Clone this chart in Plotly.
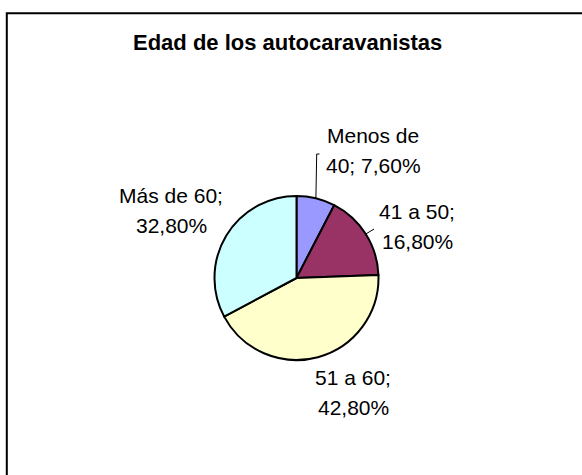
import math
import plotly.graph_objects as go

# ---- data ----
categories = ["Menos de 40", "41 a 50", "51 a 60", "Más de 60"]
values = [7.6, 16.8, 42.8, 32.8]
label_line1 = ["Menos de", "41 a 50;", "51 a 60;", "Más de 60;"]
label_line2 = ["40; 7,60%", "16,80%", "42,80%", "32,80%"]
colors = ["#9999FF", "#993366", "#FFFFCC", "#CCFFFF"]
title_text = "Edad de los autocaravanistas"

# ---- layout geometry (pixels) ----
W, H = 582, 475
CX, CY, R = 296.5, 278.0, 82.0
FONT = "Liberation Sans, Arial, sans-serif"
LBL = 21
TITLE_X = 287
# label centre (x) and baseline of first line (y), in pixels
label_pos = [(373, 143), (417, 219), (353, 385), (171, 203)]
LINE_GAP = 30


def px(x):
    return x / W


def py(y):
    return 1 - y / H


fig = go.Figure()
fig.add_trace(go.Pie(
    labels=categories,
    values=values,
    sort=False,
    direction="clockwise",
    rotation=0,
    marker=dict(colors=colors, line=dict(color="#000000", width=2)),
    textinfo="none",
    hoverinfo="label+percent",
    showlegend=False,
    domain=dict(x=[px(CX - R), px(CX + R)], y=[py(CY + R), py(CY - R)]),
))

annotations = []
# title
annotations.append(dict(
    x=px(TITLE_X), y=py(42.5), xref="paper", yref="paper", xanchor="center", yanchor="middle",
    text="<b>" + title_text + "</b>", showarrow=False,
    font=dict(family=FONT, size=22, color="#000000"),
))
# labels: put cap-middle at baseline - 0.36*font
for (lx, ly), t1, t2 in zip(label_pos, label_line1, label_line2):
    for i, t in enumerate((t1, t2)):
        yb = ly + i * LINE_GAP
        annotations.append(dict(
            x=px(lx), y=py(yb - 0.36 * LBL), xref="paper", yref="paper",
            xanchor="center", yanchor="middle", text=t, showarrow=False,
            font=dict(family=FONT, size=LBL, color="#000000"),
        ))

# leader lines, starting at slice mid-angle on pie edge
total = sum(values)
cum = 0
mids = []
for v in values:
    mids.append((cum + v / 2) / total * 2 * math.pi)
    cum += v


def edge(theta):
    return CX + R * math.sin(theta), CY - R * math.cos(theta)


shapes = []
# Menos de 40
ex, ey = edge(mids[0])
shapes.append(dict(type="path", xref="paper", yref="paper",
                   path=f"M {px(ex)},{py(ey)} L {px(316.7)},{py(154)} L {px(319.5)},{py(154)}",
                   line=dict(color="#000000", width=1)))
# 41 a 50
ex, ey = edge(mids[1])
shapes.append(dict(type="line", xref="paper", yref="paper",
                   x0=px(ex), y0=py(ey), x1=px(374), y1=py(229),
                   line=dict(color="#000000", width=1)))
# outer frame
shapes.append(dict(type="rect", xref="paper", yref="paper",
                   x0=px(6.8), y0=py(13.3), x1=1.05, y1=-0.05,
                   line=dict(color="#000000", width=2), fillcolor="rgba(0,0,0,0)"))

fig.update_layout(
    width=W, height=H,
    margin=dict(l=0, r=0, t=0, b=0),
    paper_bgcolor="white", plot_bgcolor="white",
    annotations=annotations, shapes=shapes,
)
fig.write_html(
    "out.html",
    config={"displayModeBar": False},
    post_script="document.body.style.margin='0';document.body.style.overflow='hidden';",
)
